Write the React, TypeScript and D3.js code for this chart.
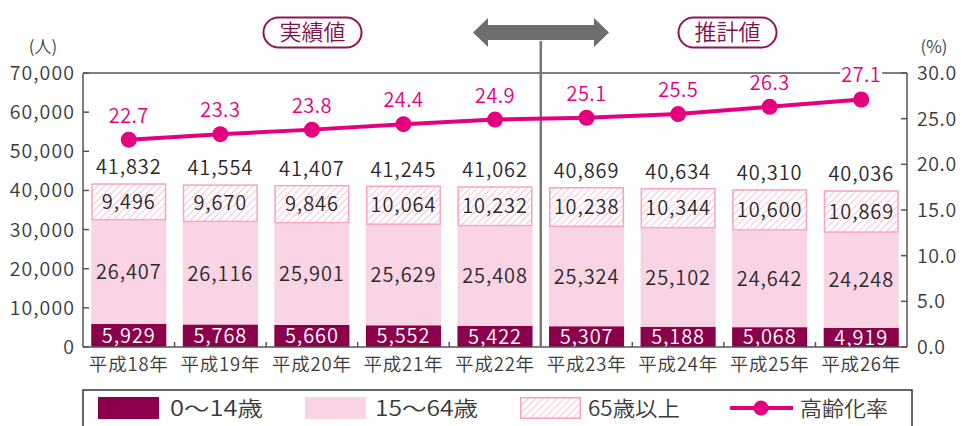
import React from "react";
import * as d3 from "d3";

const years = ["平成18年", "平成19年", "平成20年", "平成21年", "平成22年", "平成23年", "平成24年", "平成25年", "平成26年"];
const age0_14 = [5929, 5768, 5660, 5552, 5422, 5307, 5188, 5068, 4919];
const age15_64 = [26407, 26116, 25901, 25629, 25408, 25324, 25102, 24642, 24248];
const age65 = [9496, 9670, 9846, 10064, 10232, 10238, 10344, 10600, 10869];
const totals = [41832, 41554, 41407, 41245, 41062, 40869, 40634, 40310, 40036];
const agingRate = [22.7, 23.3, 23.8, 24.4, 24.9, 25.1, 25.5, 26.3, 27.1];
const leftTicks = [0, 10000, 20000, 30000, 40000, 50000, 60000, 70000];
const rightTicks = [0, 5, 10, 15, 20, 25, 30];
const legendLabels = ["0～14歳", "15～64歳", "65歳以上", "高齢化率"];

const FONT = "'Noto Sans CJK JP', 'Noto Sans', sans-serif";
const DARK = "#8a004a";
const LIGHT = "#f9d4e5";
const HATCH = "#f4a3c6";
const MAG = "#e4007f";
const TXT = "#2b2728";
const GTXT = "#3a3a3a";
const AX = "#555";
const FW = 350;

export default function App() {
  const L = 83, R = 907, T = 73, B = 347;
  const x = d3.scaleBand<string>().domain(years).range([L, R]).paddingInner(0.18).paddingOuter(0.09);
  const yL = d3.scaleLinear().domain([0, 70000]).range([B, T]);
  const yR = d3.scaleLinear().domain([0, 30]).range([B, T]);
  const fmt = d3.format(",");
  const bw = x.bandwidth();
  const cx = (i: number) => (x(years[i]) as number) + bw / 2;
  const line = d3.line<number>().x((_, i) => cx(i)).y((d) => yR(d));
  const divX = L + x.step() * 5;
  const lastI = years.length - 1;
  const num = { fontSize: 20, letterSpacing: 0.9, fontWeight: FW } as const;

  return (
    <svg width={963} height={426} style={{ position: "fixed", left: 0, top: 0, background: "#fff" }} fontFamily={FONT}>
      <defs>
        <pattern id="hatch" patternUnits="userSpaceOnUse" width={5} height={5} patternTransform="rotate(45)">
          <rect width={5} height={5} fill="#fff" />
          <line x1={0} y1={0} x2={0} y2={5} stroke={HATCH} strokeWidth={1.3} />
        </pattern>
      </defs>

      {/* bars */}
      {years.map((yr, i) => {
        const x0 = x(yr) as number;
        const b0 = 0, b1 = age0_14[i], b2 = b1 + age15_64[i], b3 = b2 + age65[i];
        return (
          <g key={yr}>
            <rect x={x0} y={yL(b1)} width={bw} height={yL(b0) - yL(b1)} fill={DARK} />
            <rect x={x0} y={yL(b2)} width={bw} height={yL(b1) - yL(b2)} fill={LIGHT} />
            <rect x={x0 + 0.75} y={yL(b3) + 0.75} width={bw - 1.5} height={yL(b2) - yL(b3) - 1.5} fill="url(#hatch)" stroke={HATCH} strokeWidth={1.5} />
            <text x={cx(i)} y={(yL(b0) + yL(b1)) / 2} dy="0.36em" textAnchor="middle" {...num} fill="#fff">{fmt(age0_14[i])}</text>
            <text x={cx(i)} y={(yL(b1) + yL(b2)) / 2} dy="0.36em" textAnchor="middle" {...num} fill={TXT}>{fmt(age15_64[i])}</text>
            <text x={cx(i)} y={(yL(b2) + yL(b3)) / 2} dy="0.36em" textAnchor="middle" {...num} fill={TXT}>{fmt(age65[i])}</text>
            <text x={cx(i)} y={yL(totals[i]) - 9} textAnchor="middle" {...num} fill={TXT}>{fmt(totals[i])}</text>
            <text x={cx(i)} y={371} textAnchor="middle" fontSize={18.5} letterSpacing={0.8} fontWeight={FW} fill={GTXT}>{yr}</text>
          </g>
        );
      })}

      {/* frame */}
      <line x1={L} y1={T} x2={R} y2={T} stroke={AX} strokeWidth={1.5} />
      <line x1={L} y1={T} x2={L} y2={B} stroke={AX} strokeWidth={1.5} />
      <line x1={R} y1={T} x2={R} y2={B} stroke={AX} strokeWidth={1.5} />
      <line x1={L} y1={B} x2={R} y2={B} stroke={AX} strokeWidth={1.5} />
      {years.slice(1).map((yr) => (
        <line key={yr} x1={x(yr)! - (x.step() - bw) / 2} x2={x(yr)! - (x.step() - bw) / 2} y1={B} y2={B - 5} stroke={AX} strokeWidth={1.5} />
      ))}
      {leftTicks.map((t) => (
        <g key={"l" + t}>
          <line x1={L} x2={L + 6} y1={yL(t)} y2={yL(t)} stroke={AX} strokeWidth={1.5} />
          <text x={75} y={yL(t)} dy="0.36em" textAnchor="end" fontSize={19.5} letterSpacing={1.1} fontWeight={FW} fill={GTXT}>{fmt(t)}</text>
        </g>
      ))}
      {rightTicks.map((t) => (
        <g key={"r" + t}>
          <line x1={R - 6} x2={R} y1={yR(t)} y2={yR(t)} stroke={AX} strokeWidth={1.5} />
          <text x={917} y={yR(t)} dy="0.36em" textAnchor="start" fontSize={19.5} letterSpacing={0.6} fontWeight={FW} fill={GTXT}>{t.toFixed(1)}</text>
        </g>
      ))}
      <text x={43} y={47} dy="0.36em" textAnchor="middle" fontSize={17} fontWeight={FW} fill={GTXT}>(人)</text>
      <text x={934} y={47} dy="0.36em" textAnchor="middle" fontSize={17} fontWeight={FW} fill={GTXT}>(%)</text>

      {/* divider and arrow */}
      <line x1={divX} x2={divX} y1={41} y2={B} stroke="#777" strokeWidth={2.5} />
      <path d={`M473,32.5 L488,18 L488,25 L594,25 L594,18 L609,32.5 L594,47 L594,40 L488,40 L488,47 Z`} fill="#6d6e70" />

      {/* headers */}
      <rect x={263.5} y={17.5} width={98} height={30} rx={15} fill="#fff" stroke="#8f1458" strokeWidth={2} />
      <text x={312.5} y={32.5} dy="0.36em" textAnchor="middle" fontSize={22} fontWeight={FW} fill="#7d1149">実績値</text>
      <rect x={678.5} y={17.5} width={98} height={30} rx={15} fill="#fff" stroke="#8f1458" strokeWidth={2} />
      <text x={727.5} y={32.5} dy="0.36em" textAnchor="middle" fontSize={22} fontWeight={FW} fill="#7d1149">推計値</text>

      {/* aging rate line */}
      <path d={line(agingRate) || ""} fill="none" stroke={MAG} strokeWidth={4} />
      {agingRate.map((v, i) => (
        <circle key={"c" + i} cx={cx(i)} cy={yR(v)} r={8} fill={MAG} />
      ))}
      <rect x={cx(lastI) - 21} y={66} width={42} height={16} fill="#fff" />
      {agingRate.map((v, i) => (
        <text key={"t" + i} x={cx(i)} y={yR(v) - 17} textAnchor="middle" fontSize={20} letterSpacing={0.4} fontWeight={FW} fill={MAG}>{v.toFixed(1)}</text>
      ))}

      {/* legend */}
      <rect x={83} y={390} width={829} height={45} fill="#fff" stroke="#333" strokeWidth={1.5} />
      <rect x={98} y={397} width={61} height={22} fill={DARK} />
      <text x={170} y={408} dy="0.36em" fontSize={21} fontWeight={FW} textLength={93} lengthAdjust="spacingAndGlyphs" fill={GTXT}>{legendLabels[0]}</text>
      <rect x={305} y={397} width={61} height={22} fill={LIGHT} />
      <text x={375} y={408} dy="0.36em" fontSize={21} fontWeight={FW} textLength={103} lengthAdjust="spacingAndGlyphs" fill={GTXT}>{legendLabels[1]}</text>
      <rect x={520.75} y={397.75} width={59.5} height={20.5} fill="url(#hatch)" stroke={HATCH} strokeWidth={1.5} />
      <text x={588} y={408} dy="0.36em" fontSize={21} fontWeight={FW} textLength={92} lengthAdjust="spacingAndGlyphs" fill={GTXT}>{legendLabels[2]}</text>
      <line x1={730} x2={793} y1={408} y2={408} stroke={MAG} strokeWidth={4} />
      <circle cx={761} cy={408} r={7.5} fill={MAG} />
      <text x={800} y={408} dy="0.36em" fontSize={21} fontWeight={FW} textLength={88} lengthAdjust="spacingAndGlyphs" fill={GTXT}>{legendLabels[3]}</text>
    </svg>
  );
}
